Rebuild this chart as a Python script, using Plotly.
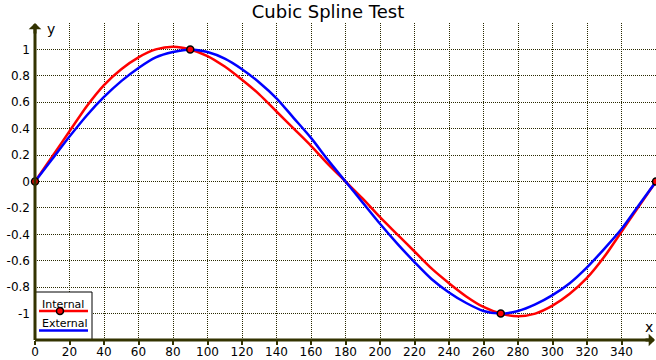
import plotly.graph_objects as go

# ---- data ----
angles = [0, 10, 20, 30, 40, 50, 60, 70, 80, 90, 100, 110, 120, 130, 140, 150, 160, 170, 180,
          190, 200, 210, 220, 230, 240, 250, 260, 270, 280, 290, 300, 310, 320, 330, 340, 350, 360]

internal = [0.00, 0.19, 0.38, 0.57, 0.73, 0.85, 0.94, 1.00, 1.02, 1.00, 0.95, 0.87, 0.77, 0.66,
            0.53, 0.40, 0.27, 0.13, 0.00, -0.13, -0.27, -0.40, -0.53, -0.66, -0.77, -0.87, -0.95,
            -1.00, -1.02, -1.00, -0.94, -0.85, -0.73, -0.57, -0.38, -0.19, 0.00]

external = [0.00, 0.17, 0.34, 0.50, 0.64, 0.76, 0.86, 0.94, 0.98, 1.00, 0.98, 0.93, 0.85, 0.75,
            0.63, 0.48, 0.33, 0.16, 0.00, -0.16, -0.32, -0.47, -0.61, -0.74, -0.84, -0.92, -0.98,
            -1.00, -0.98, -0.93, -0.86, -0.77, -0.65, -0.51, -0.36, -0.18, 0.00]

knot_x = [0, 90, 270, 360]
knot_y = [0, 1, -1, 0]

x_ticks = [0, 20, 40, 60, 80, 100, 120, 140, 160, 180, 200, 220, 240, 260, 280, 300, 320, 340]
x_tick_labels = [str(v) for v in x_ticks]
y_ticks = [-1, -0.8, -0.6, -0.4, -0.2, 0, 0.2, 0.4, 0.6, 0.8, 1]
y_tick_labels = ["-1", "-0.8", "-0.6", "-0.4", "-0.2", "0", "0.2", "0.4", "0.6", "0.8", "1"]

title_text = "Cubic Spline Test"
legend_names = ["Internal", "External"]

# ---- styles ----
FONT = "DejaVu Sans"
AXIS_COLOR = "#333300"
GRID_COLOR = "#2a2a00"

fig = go.Figure()

fig.add_trace(go.Scatter(x=angles, y=internal, mode="lines", name=legend_names[0],
                         line=dict(color="#ff0000", width=2.5, shape="spline", smoothing=0.8),
                         cliponaxis=False, showlegend=False))
fig.add_trace(go.Scatter(x=angles, y=external, mode="lines", name=legend_names[1],
                         line=dict(color="#0000ff", width=2.5, shape="spline", smoothing=0.8),
                         cliponaxis=False, showlegend=False))
fig.add_trace(go.Scatter(x=knot_x, y=knot_y, mode="markers", name="knots",
                         marker=dict(color="#ff0000", size=7, line=dict(color="#000000", width=1.5)),
                         cliponaxis=False, showlegend=False))

W, H = 656, 360
ML, MR, MT, MB = 35, 0, 23, 20
PW, PH = W - ML - MR, H - MT - MB


def px(xp):
    return (xp - ML) / PW


def py(yp):
    return (H - MB - yp) / PH


shapes = [
    # legend box
    dict(type="rect", xref="paper", yref="paper", x0=px(35), x1=px(92), y0=py(340), y1=py(292),
         line=dict(color="#000000", width=1), fillcolor="#ffffff", layer="above"),
    dict(type="line", xref="paper", yref="paper", x0=px(39), x1=px(88), y0=py(311), y1=py(311),
         line=dict(color="#ff0000", width=2.5), layer="above"),
    dict(type="circle", xref="paper", yref="paper", x0=px(56.5), x1=px(63.5), y0=py(314.5), y1=py(307.5),
         line=dict(color="#000000", width=1.5), fillcolor="#ff0000", layer="above"),
    dict(type="line", xref="paper", yref="paper", x0=px(39), x1=px(88), y0=py(330.5), y1=py(330.5),
         line=dict(color="#0000ff", width=2.5), layer="above"),
    # axis lines
    dict(type="line", xref="paper", yref="paper", x0=0, x1=0.995, y0=0, y1=0,
         line=dict(color=AXIS_COLOR, width=3), layer="above"),
    dict(type="line", xref="paper", yref="paper", x0=0, x1=0, y0=0, y1=0.99,
         line=dict(color=AXIS_COLOR, width=3), layer="above"),
]

annotations = [
    dict(xref="paper", yref="paper", x=1, y=0, ax=-12, ay=0, text="", showarrow=True,
         arrowhead=1, arrowsize=0.7, arrowwidth=3, arrowcolor=AXIS_COLOR),
    dict(xref="paper", yref="paper", x=0, y=1, ax=0, ay=12, text="", showarrow=True,
         arrowhead=1, arrowsize=0.7, arrowwidth=3, arrowcolor=AXIS_COLOR),
    dict(xref="paper", yref="paper", x=px(648.5), y=py(327), text="x", showarrow=False,
         xanchor="center", yanchor="middle", font=dict(family=FONT, size=14, color="#000000")),
    dict(xref="paper", yref="paper", x=px(51), y=py(29), text="y", showarrow=False,
         xanchor="center", yanchor="middle", font=dict(family=FONT, size=14, color="#000000")),
    dict(xref="paper", yref="paper", x=px(40), y=py(304), text=legend_names[0], showarrow=False,
         xanchor="left", yanchor="middle", font=dict(family=FONT, size=11, color="#000000")),
    dict(xref="paper", yref="paper", x=px(40), y=py(323.5), text=legend_names[1], showarrow=False,
         xanchor="left", yanchor="middle", font=dict(family=FONT, size=11, color="#000000")),
]

fig.update_layout(
    width=W, height=H,
    margin=dict(l=ML, r=MR, t=MT, b=MB, pad=0, autoexpand=False),
    paper_bgcolor="#ffffff", plot_bgcolor="#ffffff",
    showlegend=False,
    title=dict(text=title_text, x=0.5, xanchor="center", y=1 - 11.5 / H, yanchor="middle",
               xref="container", yref="container", automargin=False,
               font=dict(family=FONT, size=18, color="#000000")),
    xaxis=dict(range=[0, 360], tickmode="array", tickvals=x_ticks, ticktext=x_tick_labels,
               showgrid=True, gridcolor=GRID_COLOR, gridwidth=1, griddash="1px,1px",
               zeroline=False, showline=False, ticks="outside", ticklen=4, tickwidth=2,
               tickcolor=AXIS_COLOR, ticklabelstandoff=-3,
               tickfont=dict(family=FONT, size=12, color="#000000"),
               automargin=False, fixedrange=True),
    yaxis=dict(range=[-1.2, 1.2], tickmode="array", tickvals=y_ticks, ticktext=y_tick_labels,
               showgrid=True, gridcolor=GRID_COLOR, gridwidth=1, griddash="1px,1px",
               zeroline=False, showline=False, ticks="", ticklabelstandoff=4,
               tickfont=dict(family=FONT, size=12, color="#000000"),
               automargin=False, fixedrange=True),
    shapes=shapes,
    annotations=annotations,
    font=dict(family=FONT),
)

fig.write_html("out.html", config={"displayModeBar": False},
               post_script="document.body.style.margin='0';document.body.style.padding='0';")
